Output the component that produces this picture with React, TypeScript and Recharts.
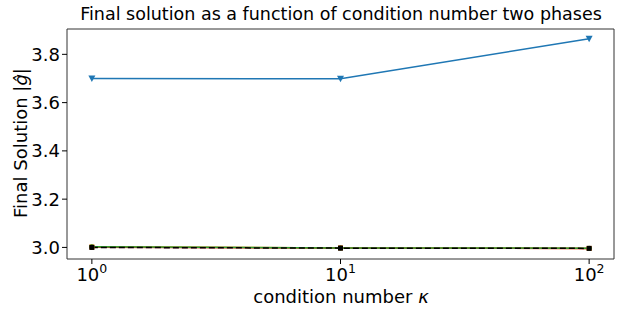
import React from "react";
import { LineChart, Line, XAxis, YAxis } from "recharts";

const kappa = [1, 10, 100];
const blueSeries = [3.7, 3.699, 3.865];
const orangeSeries = [3.002, 2.998, 2.996];
const greenSeries = [3.003, 2.998, 2.997];
const redSeries = [3.001, 2.998, 2.996];
const blackSeries = [3.0, 2.997, 2.996];
const majorTicks = [1, 10, 100];
const minorTicks = [2, 3, 4, 5, 6, 7, 8, 9, 20, 30, 40, 50, 60, 70, 80, 90, 110, 120];
const yTicks = [3.0, 3.2, 3.4, 3.6, 3.8];

const data = kappa.map((k, i) => ({
  k,
  blue: blueSeries[i],
  orange: orangeSeries[i],
  green: greenSeries[i],
  red: redSeries[i],
  black: blackSeries[i],
}));

const FONT = "DejaVu Sans, sans-serif";
const xDomain = [Math.pow(10, -0.1), Math.pow(10, 2.1)];
const yDomain = [2.952, 3.905];

const XTick = (props: any) => {
  const { x, y, payload } = props;
  const exp = Math.round(Math.log10(payload.value));
  return (
    <text x={x} y={y + 15} textAnchor="middle" fontFamily={FONT} fontSize={18} fill="#000">
      <tspan>10</tspan>
      <tspan dy={-8} fontSize={12.5}>{exp}</tspan>
    </text>
  );
};

const TriDown = (props: any) => {
  const { cx, cy } = props;
  if (cx == null || cy == null) return null;
  return <path d={`M${cx - 3.5},${cy - 3} L${cx + 3.5},${cy - 3} L${cx},${cy + 3.5} Z`} fill="#1f77b4" />;
};
const square = (color: string) => (props: any) => {
  const { cx, cy } = props;
  if (cx == null || cy == null) return null;
  return <rect x={cx - 2.5} y={cy - 2.5} width={5} height={5} fill={color} />;
};
const circle = (color: string) => (props: any) => {
  const { cx, cy } = props;
  if (cx == null || cy == null) return null;
  return <circle cx={cx} cy={cy} r={2.5} fill={color} />;
};

const YLabel = () => (
  <text transform="translate(27,143) rotate(-90)" textAnchor="middle" fontFamily={FONT} fontSize={18} fill="#000">
    Final Solution |<tspan fontStyle="italic">ĝ</tspan>|
  </text>
);
const XLabel = () => (
  <text x={341} y={303} textAnchor="middle" fontFamily={FONT} fontSize={18} fill="#000">
    condition number <tspan fontStyle="italic">κ</tspan>
  </text>
);

export default function App() {
  return (
    <div style={{ position: "absolute", left: 0, top: 0, width: 623, height: 312, background: "#fff" }}>
      <div
        style={{
          position: "absolute",
          left: 67,
          width: 548,
          top: 4,
          textAlign: "center",
          fontFamily: FONT,
          fontSize: 17.5,
          color: "#000",
          whiteSpace: "nowrap",
        }}
      >
        Final solution as a function of condition number two phases
      </div>
      <LineChart
        width={623}
        height={312}
        data={data}
        margin={{ top: 28, right: 8, bottom: 0, left: 0 }}
      >
        <XAxis
          xAxisId="minor"
          dataKey="k"
          type="number"
          scale="log"
          domain={xDomain}
          allowDataOverflow
          ticks={minorTicks}
          tick={false}
          tickSize={3}
          axisLine={false}
          tickLine={{ stroke: "#000", strokeWidth: 0.8 }}
          height={1}
        />
        <XAxis
          dataKey="k"
          type="number"
          scale="log"
          domain={xDomain}
          allowDataOverflow
          ticks={majorTicks}
          tick={<XTick />}
          tickSize={5}
          axisLine={{ stroke: "#333", strokeWidth: 1 }}
          tickLine={{ stroke: "#000", strokeWidth: 1 }}
          height={52}
          label={{ content: () => <XLabel /> }}
        />
        <XAxis
          xAxisId="top"
          orientation="top"
          dataKey="k"
          type="number"
          scale="log"
          domain={xDomain}
          allowDataOverflow
          tick={false}
          tickLine={false}
          axisLine={{ stroke: "#333", strokeWidth: 1 }}
          height={1}
        />
        <YAxis
          type="number"
          domain={yDomain}
          allowDataOverflow
          ticks={yTicks}
          tickFormatter={(v: number) => v.toFixed(1)}
          tick={{ fontFamily: FONT, fontSize: 18, fill: "#000" }}
          tickSize={5}
          axisLine={{ stroke: "#333", strokeWidth: 1 }}
          tickLine={{ stroke: "#000", strokeWidth: 1 }}
          width={67}
          label={{ content: () => <YLabel /> }}
        />
        <YAxis
          yAxisId="right"
          orientation="right"
          type="number"
          domain={yDomain}
          allowDataOverflow
          tick={false}
          tickLine={false}
          axisLine={{ stroke: "#333", strokeWidth: 1 }}
          width={1}
        />
        <Line xAxisId="minor" dataKey="black" stroke="none" dot={false} activeDot={false} isAnimationActive={false} />
        <Line xAxisId="top" yAxisId="right" dataKey="black" stroke="none" dot={false} activeDot={false} isAnimationActive={false} />
        <Line dataKey="blue" stroke="#1f77b4" strokeWidth={1.5} dot={<TriDown />} isAnimationActive={false} />
        <Line dataKey="orange" stroke="#ff7f0e" strokeWidth={1.5} dot={square("#ff7f0e")} isAnimationActive={false} />
        <Line dataKey="red" stroke="#d62728" strokeWidth={1.5} dot={circle("#d62728")} isAnimationActive={false} />
        <Line dataKey="green" stroke="#2ca02c" strokeWidth={1.5} dot={circle("#2ca02c")} isAnimationActive={false} />
        <Line dataKey="black" stroke="#000" strokeWidth={1.5} strokeDasharray="6 3" dot={square("#000")} isAnimationActive={false} />
      </LineChart>
    </div>
  );
}
